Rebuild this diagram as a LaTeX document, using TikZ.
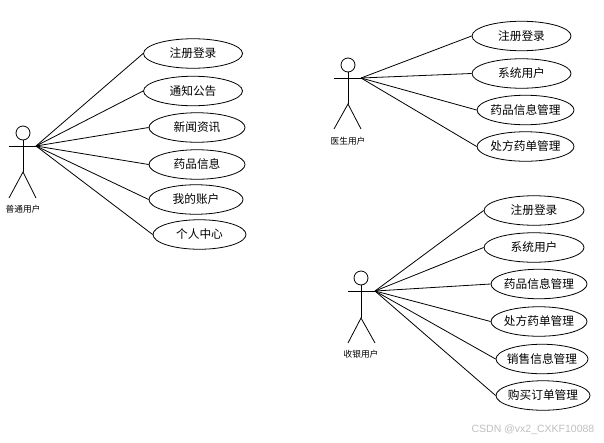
\documentclass[tikz,border=0pt]{standalone}
\usepackage{fontspec}
\setmainfont{Noto Sans CJK SC}
\setsansfont{Liberation Sans}
\usetikzlibrary{shapes.geometric}
\tikzset{
  usecase/.style={draw=black, ellipse, line width=0.8pt, inner xsep=-6pt, inner ysep=0pt, minimum height=29.5pt, font=\fontsize{11.7}{12}\selectfont},
  head/.style={draw=black, circle, line width=0.8pt, inner sep=0pt, minimum size=14pt},
  rolename/.style={inner sep=0pt, font=\fontsize{8.7}{9}\selectfont},
  limb/.style={draw=black, line width=0.8pt},
  assoc/.style={draw=black, line width=0.8pt}
}
\begin{document}
\begin{tikzpicture}[x=1pt,y=-1pt]
    \useasboundingbox (0,0) rectangle (604,442);
    % first actor
    \node[head] (headA) at (23,133) {};
    \coordinate (handA) at (36,146);
    \coordinate (armA) at (9,146);
    \coordinate (hipA) at (23,172);
    \coordinate (legAl) at (9,198);
    \coordinate (legAr) at (36,198);
    \draw[limb] (headA) -- (hipA);
    \draw[limb] (armA) -- (handA);
    \draw[limb] (legAl) -- (hipA) -- (legAr);
    \node[rolename] (roleA) at (23,209) {普通用户};
    \node[usecase, minimum width=99pt] (a1) at (193,53.5) {注册登录};
    \node[usecase, minimum width=99pt] (a2) at (193,91) {通知公告};
    \node[usecase, minimum width=96pt] (a3) at (197,127.5) {新闻资讯};
    \node[usecase, minimum width=96pt] (a4) at (197,164.5) {药品信息};
    \node[usecase, minimum width=94pt] (a5) at (196,199.5) {我的账户};
    \node[usecase, minimum width=93pt] (a6) at (199.5,234.5) {个人中心};
    \draw[assoc] (handA) -- (a1.west);
    \draw[assoc] (handA) -- (a2.west);
    \draw[assoc] (handA) -- (a3.west);
    \draw[assoc] (handA) -- (a4.west);
    \draw[assoc] (handA) -- (a5.west);
    \draw[assoc] (handA) -- (a6.west);
    % second actor
    \node[head] (headB) at (348,65) {};
    \coordinate (handB) at (361,78);
    \coordinate (armB) at (334,78);
    \coordinate (hipB) at (348,104);
    \coordinate (legBl) at (334,129);
    \coordinate (legBr) at (361,129);
    \draw[limb] (headB) -- (hipB);
    \draw[limb] (armB) -- (handB);
    \draw[limb] (legBl) -- (hipB) -- (legBr);
    \node[rolename] (roleB) at (348,141) {医生用户};
    \node[usecase, minimum width=99pt] (b1) at (521.5,36) {注册登录};
    \node[usecase, minimum width=99pt] (b2) at (521.5,73.5) {系统用户};
    \node[usecase, minimum width=97pt] (b3) at (525.5,110) {药品信息管理};
    \node[usecase, minimum width=97pt] (b4) at (525.5,146.5) {处方药单管理};
    \draw[assoc] (handB) -- (b1.west);
    \draw[assoc] (handB) -- (b2.west);
    \draw[assoc] (handB) -- (b3.west);
    \draw[assoc] (handB) -- (b4.west);
    % third actor
    \node[head] (headC) at (361,278) {};
    \coordinate (handC) at (375,291);
    \coordinate (armC) at (348,291);
    \coordinate (hipC) at (361,318);
    \coordinate (legCl) at (348,343);
    \coordinate (legCr) at (375,343);
    \draw[limb] (headC) -- (hipC);
    \draw[limb] (armC) -- (handC);
    \draw[limb] (legCl) -- (hipC) -- (legCr);
    \node[rolename] (roleC) at (361,354) {收银用户};
    \node[usecase, minimum width=100pt] (c1) at (534,210.5) {注册登录};
    \node[usecase, minimum width=100pt] (c2) at (534,247.5) {系统用户};
    \node[usecase, minimum width=96pt] (c3) at (539,284) {药品信息管理};
    \node[usecase, minimum width=96pt] (c4) at (539,321.5) {处方药单管理};
    \node[usecase, minimum width=92pt] (c5) at (542,359) {销售信息管理};
    \node[usecase, minimum width=94pt] (c6) at (543,395.5) {购买订单管理};
    \draw[assoc] (handC) -- (c1.west);
    \draw[assoc] (handC) -- (c2.west);
    \draw[assoc] (handC) -- (c3.west);
    \draw[assoc] (handC) -- (c4.west);
    \draw[assoc] (handC) -- (c5.west);
    \draw[assoc] (handC) -- (c6.west);
    % watermark
    \node[text=black!25, inner sep=0pt, font=\sffamily\fontsize{10.5}{12}\selectfont] (mark) at (533,430) {CSDN @vx2\_CXKF10088};
\end{tikzpicture}
\end{document}
